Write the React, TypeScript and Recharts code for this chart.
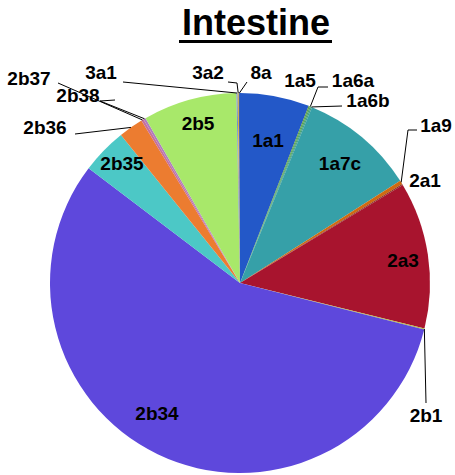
import React from 'react';
import { PieChart, Pie, Cell } from 'recharts';

const categories = ['1a1', '1a5', '1a6a', '1a6b', '1a7c', '1a9', '2a1', '2a3', '2b1', '2b34', '2b35', '2b36', '2b37', '2b38', '2b5', '3a1', '3a2', '8a'];
const values = [5.9, 0.1, 0.1, 0.1, 9.8, 0.3, 0.1, 12.5, 0.1, 56.5, 3.9, 2.1, 0.2, 0.2, 8.0, 0.1, 0.1, 0.1];
const colors = ['#2358C8', '#5FA040', '#48A060', '#3C9C80', '#36A0A8', '#D06A10', '#8C3020', '#A8142E', '#B8C040', '#5E48DC', '#4CC8C6', '#EC7C30', '#C8709A', '#B07CC0', '#A8E86A', '#7090D0', '#D8B040', '#4060B0'];

const data = categories.map((name, i) => ({ name, value: values[i] }));

type Layout = { tx: number; ty: number; path?: [number, number][] };
// label positions relative to pie centre
const labelLayout: Record<string, Layout> = {
  '1a1': { tx: 28, ty: -143 },
  '1a7c': { tx: 100, ty: -120 },
  '2a3': { tx: 163, ty: -23 },
  '2b34': { tx: -83, ty: 130 },
  '2b35': { tx: -118, ty: -120 },
  '2b5': { tx: -42, ty: -160 },
  '1a5': { tx: 60, ty: -203 },
  '1a6a': { tx: 113, ty: -203, path: [[78, -196], [88, -196]] },
  '1a6b': { tx: 128, ty: -183, path: [[102, -177]] },
  '1a9': { tx: 196, ty: -158, path: [[168, -153], [177, -153]] },
  '2a1': { tx: 185, ty: -103 },
  '2b1': { tx: 186, ty: 132, path: [[186, 120]] },
  '2b36': { tx: -195, ty: -156, path: [[-165, -149]] },
  '2b37': { tx: -211, ty: -205, path: [[-182, -200]] },
  '2b38': { tx: -162, ty: -188, path: [[-140, -182], [-125, -183]] },
  '3a1': { tx: -139, ty: -211, path: [[-117, -201]] },
  '3a2': { tx: -32, ty: -211, path: [[-3, -200], [-12, -201]] },
  '8a': { tx: 21, ty: -211, path: [[7, -201]] },
};

const RAD = Math.PI / 180;
const FONT = '"Liberation Sans", Arial, sans-serif';

function renderLabel(props: any) {
  const { cx, cy, midAngle, outerRadius } = props;
  const name = props.name ?? props.payload?.name;
  const L = labelLayout[name];
  if (!L) return null;
  const ex = cx + outerRadius * Math.cos(-midAngle * RAD);
  const ey = cy + outerRadius * Math.sin(-midAngle * RAD);
  const pts = L.path ? [[ex, ey], ...L.path.map(([x, y]) => [cx + x, cy + y])] : null;
  return (
    <g key={`lbl-${name}`}>
      {pts && (
        <polyline
          points={pts.map((p) => p.join(',')).join(' ')}
          fill="none"
          stroke="#000"
          strokeWidth={1}
        />
      )}
      <text
        x={cx + L.tx}
        y={cy + L.ty}
        textAnchor="middle"
        dominantBaseline="central"
        fontFamily={FONT}
        fontWeight="bold"
        fontSize={19}
        fill="#000"
      >
        {name}
      </text>
    </g>
  );
}

export default function App() {
  return (
    <div style={{ position: 'absolute', left: 0, top: 0, width: 455, height: 475, background: '#fff' }}>
      <PieChart width={455} height={475} margin={{ top: 0, right: 0, bottom: 0, left: 0 }}>
        <Pie
          data={data}
          dataKey="value"
          nameKey="name"
          cx={240}
          cy={283}
          outerRadius={190}
          startAngle={90}
          endAngle={-270}
          stroke="none"
          isAnimationActive={false}
          label={renderLabel}
          labelLine={false}
        >
          {data.map((d, i) => (
            <Cell key={d.name} fill={colors[i]} />
          ))}
        </Pie>
      </PieChart>
      <svg width={455} height={60} style={{ position: 'absolute', left: 0, top: 0 }}>
        <text x={256} y={35} textAnchor="middle" fontFamily={FONT} fontWeight="bold" fontSize={36} fill="#000">
          Intestine
        </text>
        <rect x={179} y={40} width={153} height={3} fill="#000" />
      </svg>
    </div>
  );
}
